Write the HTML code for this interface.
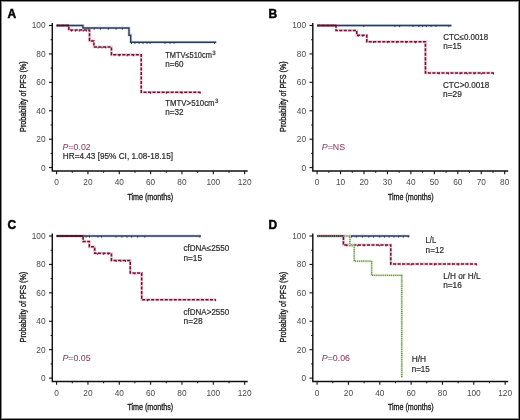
<!DOCTYPE html>
<html><head><meta charset="utf-8"><style>
html,body{margin:0;padding:0;background:#fff;}
body{width:520px;height:420px;overflow:hidden;font-family:"Liberation Sans",sans-serif;}
svg{display:block;will-change:transform;}
text{font-family:"Liberation Sans",sans-serif;}
</style></head><body>
<svg width="520" height="420" viewBox="0 0 520 420" font-family="Liberation Sans, sans-serif"><rect x="0" y="0" width="520" height="420" fill="#fff"/><text x="7.6" y="17.6" font-size="12" font-weight="bold" fill="#000" stroke="#000" stroke-width="0.45">A</text><path d="M52.30 22.90 V171.00 H247.70" fill="none" stroke="#111" stroke-width="1.45"/><path d="M49.00 167.60H52.30" stroke="#111" stroke-width="1.1"/><text x="45.6" y="170.55" text-anchor="end" font-size="8.3" fill="#4a4a4a">0</text><path d="M50.60 153.39H52.30" stroke="#111" stroke-width="1"/><path d="M49.00 139.18H52.30" stroke="#111" stroke-width="1.1"/><text x="45.6" y="142.13" text-anchor="end" font-size="8.3" fill="#4a4a4a">20</text><path d="M50.60 124.97H52.30" stroke="#111" stroke-width="1"/><path d="M49.00 110.76H52.30" stroke="#111" stroke-width="1.1"/><text x="45.6" y="113.71" text-anchor="end" font-size="8.3" fill="#4a4a4a">40</text><path d="M50.60 96.55H52.30" stroke="#111" stroke-width="1"/><path d="M49.00 82.34H52.30" stroke="#111" stroke-width="1.1"/><text x="45.6" y="85.29" text-anchor="end" font-size="8.3" fill="#4a4a4a">60</text><path d="M50.60 68.13H52.30" stroke="#111" stroke-width="1"/><path d="M49.00 53.92H52.30" stroke="#111" stroke-width="1.1"/><text x="45.6" y="56.87" text-anchor="end" font-size="8.3" fill="#4a4a4a">80</text><path d="M50.60 39.71H52.30" stroke="#111" stroke-width="1"/><path d="M49.00 25.50H52.30" stroke="#111" stroke-width="1.1"/><text x="45.6" y="28.45" text-anchor="end" font-size="8.3" fill="#4a4a4a">100</text><path d="M56.60 171.00V174.30" stroke="#111" stroke-width="1.1"/><text x="56.60" y="185.0" text-anchor="middle" font-size="8.3" fill="#4a4a4a">0</text><path d="M72.27 171.00V172.80" stroke="#111" stroke-width="1"/><path d="M87.94 171.00V174.30" stroke="#111" stroke-width="1.1"/><text x="87.94" y="185.0" text-anchor="middle" font-size="8.3" fill="#4a4a4a">20</text><path d="M103.61 171.00V172.80" stroke="#111" stroke-width="1"/><path d="M119.28 171.00V174.30" stroke="#111" stroke-width="1.1"/><text x="119.28" y="185.0" text-anchor="middle" font-size="8.3" fill="#4a4a4a">40</text><path d="M134.95 171.00V172.80" stroke="#111" stroke-width="1"/><path d="M150.62 171.00V174.30" stroke="#111" stroke-width="1.1"/><text x="150.62" y="185.0" text-anchor="middle" font-size="8.3" fill="#4a4a4a">60</text><path d="M166.29 171.00V172.80" stroke="#111" stroke-width="1"/><path d="M181.96 171.00V174.30" stroke="#111" stroke-width="1.1"/><text x="181.96" y="185.0" text-anchor="middle" font-size="8.3" fill="#4a4a4a">80</text><path d="M197.63 171.00V172.80" stroke="#111" stroke-width="1"/><path d="M213.30 171.00V174.30" stroke="#111" stroke-width="1.1"/><text x="213.30" y="185.0" text-anchor="middle" font-size="8.3" fill="#4a4a4a">100</text><path d="M228.97 171.00V172.80" stroke="#111" stroke-width="1"/><path d="M244.64 171.00V174.30" stroke="#111" stroke-width="1.1"/><text x="244.64" y="185.0" text-anchor="middle" font-size="8.3" fill="#4a4a4a">120</text><text x="150.3" y="199.6" text-anchor="middle" font-size="9.5" fill="#1a1a1a" stroke="#1a1a1a" stroke-width="0.35" textLength="45.8" lengthAdjust="spacingAndGlyphs">Time (months)</text><text transform="translate(25.9 96.6) rotate(-90)" x="0" y="0" text-anchor="middle" font-size="9.5" fill="#1a1a1a" stroke="#1a1a1a" stroke-width="0.35" textLength="70.6" lengthAdjust="spacingAndGlyphs">Probability of PFS (%)</text><path d="M56.60 25.50 H82.93 V28.06 H129.00 V35.16 H130.72 V42.27 H216.28" fill="none" stroke="#d9e0ea" stroke-width="3.1"/><path d="M56.60 25.50 H68.82 V30.05 H89.51 V40.99 H93.89 V46.96 H111.44 V54.77 H141.22 V92.29 H200.61" fill="none" stroke="#f2ccd8" stroke-width="2.8"/><path d="M56.60 25.50 H82.93 V28.06 H129.00 V35.16 H130.72 V42.27 H216.28" fill="none" stroke="#2c3b57" stroke-width="1.45"/><path d="M87.94 28.06v1.60" stroke="#2c3b57" stroke-width="1.00"/><path d="M94.21 28.06v1.60" stroke="#2c3b57" stroke-width="1.00"/><path d="M100.48 28.06v1.60" stroke="#2c3b57" stroke-width="1.00"/><path d="M108.31 28.06v1.60" stroke="#2c3b57" stroke-width="1.00"/><path d="M116.15 28.06v1.60" stroke="#2c3b57" stroke-width="1.00"/><path d="M122.41 28.06v1.60" stroke="#2c3b57" stroke-width="1.00"/><path d="M131.50 42.27v1.60" stroke="#2c3b57" stroke-width="1.00"/><path d="M134.95 42.27v1.60" stroke="#2c3b57" stroke-width="1.00"/><path d="M139.18 42.27v1.60" stroke="#2c3b57" stroke-width="1.00"/><path d="M143.10 42.27v1.60" stroke="#2c3b57" stroke-width="1.00"/><path d="M147.02 42.27v1.60" stroke="#2c3b57" stroke-width="1.00"/><path d="M149.99 42.27v1.60" stroke="#2c3b57" stroke-width="1.00"/><path d="M165.04 42.27v1.60" stroke="#2c3b57" stroke-width="1.00"/><path d="M170.05 42.27v1.60" stroke="#2c3b57" stroke-width="1.00"/><path d="M174.12 42.27v1.60" stroke="#2c3b57" stroke-width="1.00"/><path d="M214.55 42.27v1.60" stroke="#2c3b57" stroke-width="1.00"/><path d="M56.60 25.50 H68.82 V30.05 H89.51 V40.99 H93.89 V46.96 H111.44 V54.77 H141.22 V92.29 H200.61" fill="none" stroke="#6a1436" stroke-width="1.55" stroke-dasharray="3.1 1.42"/><path d="M56.60 25.50H68.82" fill="none" stroke="#3e1a2c" stroke-width="1.60"/><path d="M71.49 30.05v1.50" stroke="#6a1436" stroke-width="1.00"/><path d="M75.40 30.05v1.50" stroke="#6a1436" stroke-width="1.00"/><path d="M79.32 30.05v1.50" stroke="#6a1436" stroke-width="1.00"/><path d="M83.24 30.05v1.50" stroke="#6a1436" stroke-width="1.00"/><path d="M86.37 30.05v1.50" stroke="#6a1436" stroke-width="1.00"/><path d="M98.13 46.96v1.50" stroke="#6a1436" stroke-width="1.00"/><path d="M102.04 46.96v1.50" stroke="#6a1436" stroke-width="1.00"/><path d="M105.96 46.96v1.50" stroke="#6a1436" stroke-width="1.00"/><path d="M119.28 54.77v1.50" stroke="#6a1436" stroke-width="1.00"/><path d="M127.12 54.77v1.50" stroke="#6a1436" stroke-width="1.00"/><path d="M133.38 54.77v1.50" stroke="#6a1436" stroke-width="1.00"/><path d="M150.62 92.29v1.50" stroke="#6a1436" stroke-width="1.00"/><path d="M166.29 92.29v1.50" stroke="#6a1436" stroke-width="1.00"/><path d="M181.96 92.29v1.50" stroke="#6a1436" stroke-width="1.00"/><path d="M200.14 92.29v1.50" stroke="#6a1436" stroke-width="1.00"/><text transform="scale(0.840 1)" x="196.79" y="57.75" font-size="8.50" fill="#2a2a2a" stroke="#2a2a2a" stroke-width="0.2" textLength="55.48" lengthAdjust="spacingAndGlyphs">TMTV≤510cm</text><text x="212.20" y="54.60" font-size="6.20" fill="#2a2a2a" stroke="#2a2a2a" stroke-width="0.16" text-rendering="geometricPrecision">3</text><text transform="scale(0.840 1)" x="196.79" y="67.50" font-size="8.50" fill="#2a2a2a" stroke="#2a2a2a" stroke-width="0.2" textLength="21.79" lengthAdjust="spacingAndGlyphs">n=60</text><text transform="scale(0.840 1)" x="196.79" y="106.00" font-size="8.50" fill="#2a2a2a" stroke="#2a2a2a" stroke-width="0.2" textLength="58.69" lengthAdjust="spacingAndGlyphs">TMTV&gt;510cm</text><text x="215.00" y="102.90" font-size="6.20" fill="#2a2a2a" stroke="#2a2a2a" stroke-width="0.16" text-rendering="geometricPrecision">3</text><text transform="scale(0.840 1)" x="196.79" y="115.00" font-size="8.50" fill="#2a2a2a" stroke="#2a2a2a" stroke-width="0.2" textLength="21.79" lengthAdjust="spacingAndGlyphs">n=32</text><text x="62.60" y="149.60" font-size="8.8" fill="#8a3f62" stroke="#8a3f62" stroke-width="0.05"><tspan font-style="italic">P</tspan>=0.02</text><text transform="scale(0.840 1)" x="74.76" y="159.20" font-size="8.50" fill="#2a2a2a" stroke="#2a2a2a" stroke-width="0.2" textLength="131.19" lengthAdjust="spacingAndGlyphs">HR=4.43 [95% CI, 1.08-18.15]</text><text x="268.4" y="18.2" font-size="12" font-weight="bold" fill="#000" stroke="#000" stroke-width="0.45">B</text><g transform="translate(260.5 0)"><path d="M52.30 22.90 V171.00 H247.70" fill="none" stroke="#111" stroke-width="1.45"/><path d="M49.00 167.60H52.30" stroke="#111" stroke-width="1.1"/><text x="45.6" y="170.55" text-anchor="end" font-size="8.3" fill="#4a4a4a">0</text><path d="M50.60 153.39H52.30" stroke="#111" stroke-width="1"/><path d="M49.00 139.18H52.30" stroke="#111" stroke-width="1.1"/><text x="45.6" y="142.13" text-anchor="end" font-size="8.3" fill="#4a4a4a">20</text><path d="M50.60 124.97H52.30" stroke="#111" stroke-width="1"/><path d="M49.00 110.76H52.30" stroke="#111" stroke-width="1.1"/><text x="45.6" y="113.71" text-anchor="end" font-size="8.3" fill="#4a4a4a">40</text><path d="M50.60 96.55H52.30" stroke="#111" stroke-width="1"/><path d="M49.00 82.34H52.30" stroke="#111" stroke-width="1.1"/><text x="45.6" y="85.29" text-anchor="end" font-size="8.3" fill="#4a4a4a">60</text><path d="M50.60 68.13H52.30" stroke="#111" stroke-width="1"/><path d="M49.00 53.92H52.30" stroke="#111" stroke-width="1.1"/><text x="45.6" y="56.87" text-anchor="end" font-size="8.3" fill="#4a4a4a">80</text><path d="M50.60 39.71H52.30" stroke="#111" stroke-width="1"/><path d="M49.00 25.50H52.30" stroke="#111" stroke-width="1.1"/><text x="45.6" y="28.45" text-anchor="end" font-size="8.3" fill="#4a4a4a">100</text><path d="M56.60 171.00V174.30" stroke="#111" stroke-width="1.1"/><text x="56.60" y="185.0" text-anchor="middle" font-size="8.3" fill="#4a4a4a">0</text><path d="M68.33 171.00V172.80" stroke="#111" stroke-width="1"/><path d="M80.05 171.00V174.30" stroke="#111" stroke-width="1.1"/><text x="80.05" y="185.0" text-anchor="middle" font-size="8.3" fill="#4a4a4a">10</text><path d="M91.78 171.00V172.80" stroke="#111" stroke-width="1"/><path d="M103.50 171.00V174.30" stroke="#111" stroke-width="1.1"/><text x="103.50" y="185.0" text-anchor="middle" font-size="8.3" fill="#4a4a4a">20</text><path d="M115.23 171.00V172.80" stroke="#111" stroke-width="1"/><path d="M126.95 171.00V174.30" stroke="#111" stroke-width="1.1"/><text x="126.95" y="185.0" text-anchor="middle" font-size="8.3" fill="#4a4a4a">30</text><path d="M138.68 171.00V172.80" stroke="#111" stroke-width="1"/><path d="M150.40 171.00V174.30" stroke="#111" stroke-width="1.1"/><text x="150.40" y="185.0" text-anchor="middle" font-size="8.3" fill="#4a4a4a">40</text><path d="M162.12 171.00V172.80" stroke="#111" stroke-width="1"/><path d="M173.85 171.00V174.30" stroke="#111" stroke-width="1.1"/><text x="173.85" y="185.0" text-anchor="middle" font-size="8.3" fill="#4a4a4a">50</text><path d="M185.58 171.00V172.80" stroke="#111" stroke-width="1"/><path d="M197.30 171.00V174.30" stroke="#111" stroke-width="1.1"/><text x="197.30" y="185.0" text-anchor="middle" font-size="8.3" fill="#4a4a4a">60</text><path d="M209.03 171.00V172.80" stroke="#111" stroke-width="1"/><path d="M220.75 171.00V174.30" stroke="#111" stroke-width="1.1"/><text x="220.75" y="185.0" text-anchor="middle" font-size="8.3" fill="#4a4a4a">70</text><path d="M232.48 171.00V172.80" stroke="#111" stroke-width="1"/><path d="M244.20 171.00V174.30" stroke="#111" stroke-width="1.1"/><text x="244.20" y="185.0" text-anchor="middle" font-size="8.3" fill="#4a4a4a">80</text><text x="150.3" y="199.6" text-anchor="middle" font-size="9.5" fill="#1a1a1a" stroke="#1a1a1a" stroke-width="0.35" textLength="45.8" lengthAdjust="spacingAndGlyphs">Time (months)</text><text transform="translate(25.9 96.6) rotate(-90)" x="0" y="0" text-anchor="middle" font-size="9.5" fill="#1a1a1a" stroke="#1a1a1a" stroke-width="0.35" textLength="70.6" lengthAdjust="spacingAndGlyphs">Probability of PFS (%)</text><path d="M56.60 25.50 H190.97" fill="none" stroke="#d9e0ea" stroke-width="3.1"/><path d="M56.60 25.50 H75.50 V30.47 H96.23 V35.30 H106.31 V41.70 H164.94 V72.96 H233.41" fill="none" stroke="#f2ccd8" stroke-width="2.8"/><path d="M56.60 25.50 H190.97" fill="none" stroke="#2c3b57" stroke-width="1.45"/><path d="M103.27 25.50v1.60" stroke="#2c3b57" stroke-width="1.00"/><path d="M134.45 25.50v1.60" stroke="#2c3b57" stroke-width="1.00"/><path d="M139.14 25.50v1.60" stroke="#2c3b57" stroke-width="1.00"/><path d="M152.51 25.50v1.60" stroke="#2c3b57" stroke-width="1.00"/><path d="M158.37 25.50v1.60" stroke="#2c3b57" stroke-width="1.00"/><path d="M162.12 25.50v1.60" stroke="#2c3b57" stroke-width="1.00"/><path d="M165.88 25.50v1.60" stroke="#2c3b57" stroke-width="1.00"/><path d="M170.57 25.50v1.60" stroke="#2c3b57" stroke-width="1.00"/><path d="M175.49 25.50v1.60" stroke="#2c3b57" stroke-width="1.00"/><path d="M188.39 25.50v1.60" stroke="#2c3b57" stroke-width="1.00"/><path d="M56.60 25.50 H75.50 V30.47 H96.23 V35.30 H106.31 V41.70 H164.94 V72.96 H233.41" fill="none" stroke="#6a1436" stroke-width="1.55" stroke-dasharray="3.1 1.42"/><path d="M56.60 25.50H75.50" fill="none" stroke="#5a1630" stroke-width="1.60"/><path d="M97.64 35.30v1.50" stroke="#6a1436" stroke-width="1.00"/><path d="M102.33 35.30v1.50" stroke="#6a1436" stroke-width="1.00"/><path d="M112.88 41.70v1.50" stroke="#6a1436" stroke-width="1.00"/><path d="M126.95 41.70v1.50" stroke="#6a1436" stroke-width="1.00"/><path d="M136.33 41.70v1.50" stroke="#6a1436" stroke-width="1.00"/><path d="M145.71 41.70v1.50" stroke="#6a1436" stroke-width="1.00"/><path d="M155.09 41.70v1.50" stroke="#6a1436" stroke-width="1.00"/><path d="M178.54 72.96v1.50" stroke="#6a1436" stroke-width="1.00"/><path d="M187.92 72.96v1.50" stroke="#6a1436" stroke-width="1.00"/><path d="M199.65 72.96v1.50" stroke="#6a1436" stroke-width="1.00"/><path d="M206.68 72.96v1.50" stroke="#6a1436" stroke-width="1.00"/><path d="M213.72 72.96v1.50" stroke="#6a1436" stroke-width="1.00"/><path d="M220.75 72.96v1.50" stroke="#6a1436" stroke-width="1.00"/><path d="M232.94 72.96v1.50" stroke="#6a1436" stroke-width="1.00"/></g><text transform="scale(0.840 1)" x="527.62" y="39.80" font-size="8.50" fill="#2a2a2a" stroke="#2a2a2a" stroke-width="0.2" textLength="53.57" lengthAdjust="spacingAndGlyphs">CTC≤0.0018</text><text transform="scale(0.840 1)" x="527.62" y="49.30" font-size="8.50" fill="#2a2a2a" stroke="#2a2a2a" stroke-width="0.2" textLength="21.90" lengthAdjust="spacingAndGlyphs">n=15</text><text transform="scale(0.840 1)" x="527.38" y="87.90" font-size="8.50" fill="#2a2a2a" stroke="#2a2a2a" stroke-width="0.2" textLength="55.00" lengthAdjust="spacingAndGlyphs">CTC&gt;0.0018</text><text transform="scale(0.840 1)" x="527.38" y="97.50" font-size="8.50" fill="#2a2a2a" stroke="#2a2a2a" stroke-width="0.2" textLength="22.38" lengthAdjust="spacingAndGlyphs">n=29</text><text x="321.80" y="149.60" font-size="8.8" fill="#8a3f62" stroke="#8a3f62" stroke-width="0.05"><tspan font-style="italic">P</tspan>=NS</text><text x="7.4" y="229.2" font-size="12" font-weight="bold" fill="#000" stroke="#000" stroke-width="0.45">C</text><g transform="translate(0 210.5)"><path d="M52.30 22.90 V171.00 H247.70" fill="none" stroke="#111" stroke-width="1.45"/><path d="M49.00 167.60H52.30" stroke="#111" stroke-width="1.1"/><text x="45.6" y="170.55" text-anchor="end" font-size="8.3" fill="#4a4a4a">0</text><path d="M50.60 153.39H52.30" stroke="#111" stroke-width="1"/><path d="M49.00 139.18H52.30" stroke="#111" stroke-width="1.1"/><text x="45.6" y="142.13" text-anchor="end" font-size="8.3" fill="#4a4a4a">20</text><path d="M50.60 124.97H52.30" stroke="#111" stroke-width="1"/><path d="M49.00 110.76H52.30" stroke="#111" stroke-width="1.1"/><text x="45.6" y="113.71" text-anchor="end" font-size="8.3" fill="#4a4a4a">40</text><path d="M50.60 96.55H52.30" stroke="#111" stroke-width="1"/><path d="M49.00 82.34H52.30" stroke="#111" stroke-width="1.1"/><text x="45.6" y="85.29" text-anchor="end" font-size="8.3" fill="#4a4a4a">60</text><path d="M50.60 68.13H52.30" stroke="#111" stroke-width="1"/><path d="M49.00 53.92H52.30" stroke="#111" stroke-width="1.1"/><text x="45.6" y="56.87" text-anchor="end" font-size="8.3" fill="#4a4a4a">80</text><path d="M50.60 39.71H52.30" stroke="#111" stroke-width="1"/><path d="M49.00 25.50H52.30" stroke="#111" stroke-width="1.1"/><text x="45.6" y="28.45" text-anchor="end" font-size="8.3" fill="#4a4a4a">100</text><path d="M56.60 171.00V174.30" stroke="#111" stroke-width="1.1"/><text x="56.60" y="185.0" text-anchor="middle" font-size="8.3" fill="#4a4a4a">0</text><path d="M72.27 171.00V172.80" stroke="#111" stroke-width="1"/><path d="M87.94 171.00V174.30" stroke="#111" stroke-width="1.1"/><text x="87.94" y="185.0" text-anchor="middle" font-size="8.3" fill="#4a4a4a">20</text><path d="M103.61 171.00V172.80" stroke="#111" stroke-width="1"/><path d="M119.28 171.00V174.30" stroke="#111" stroke-width="1.1"/><text x="119.28" y="185.0" text-anchor="middle" font-size="8.3" fill="#4a4a4a">40</text><path d="M134.95 171.00V172.80" stroke="#111" stroke-width="1"/><path d="M150.62 171.00V174.30" stroke="#111" stroke-width="1.1"/><text x="150.62" y="185.0" text-anchor="middle" font-size="8.3" fill="#4a4a4a">60</text><path d="M166.29 171.00V172.80" stroke="#111" stroke-width="1"/><path d="M181.96 171.00V174.30" stroke="#111" stroke-width="1.1"/><text x="181.96" y="185.0" text-anchor="middle" font-size="8.3" fill="#4a4a4a">80</text><path d="M197.63 171.00V172.80" stroke="#111" stroke-width="1"/><path d="M213.30 171.00V174.30" stroke="#111" stroke-width="1.1"/><text x="213.30" y="185.0" text-anchor="middle" font-size="8.3" fill="#4a4a4a">100</text><path d="M228.97 171.00V172.80" stroke="#111" stroke-width="1"/><path d="M244.64 171.00V174.30" stroke="#111" stroke-width="1.1"/><text x="244.64" y="185.0" text-anchor="middle" font-size="8.3" fill="#4a4a4a">120</text><text x="150.3" y="199.6" text-anchor="middle" font-size="9.5" fill="#1a1a1a" stroke="#1a1a1a" stroke-width="0.35" textLength="45.8" lengthAdjust="spacingAndGlyphs">Time (months)</text><text transform="translate(25.9 96.6) rotate(-90)" x="0" y="0" text-anchor="middle" font-size="9.5" fill="#1a1a1a" stroke="#1a1a1a" stroke-width="0.35" textLength="70.6" lengthAdjust="spacingAndGlyphs">Probability of PFS (%)</text><path d="M56.60 25.50 H200.92" fill="none" stroke="#d9e0ea" stroke-width="3.1"/><path d="M56.60 25.50 H83.08 V31.04 H89.35 V36.30 H94.68 V42.84 H111.44 V49.94 H130.25 V62.59 H141.69 V89.16 H215.96" fill="none" stroke="#f2ccd8" stroke-width="2.8"/><path d="M56.60 25.50 H200.92" fill="none" stroke="#2c3b57" stroke-width="1.45"/><path d="M86.06 25.50v1.60" stroke="#2c3b57" stroke-width="1.00"/><path d="M89.51 25.50v1.60" stroke="#2c3b57" stroke-width="1.00"/><path d="M97.97 25.50v1.60" stroke="#2c3b57" stroke-width="1.00"/><path d="M101.57 25.50v1.60" stroke="#2c3b57" stroke-width="1.00"/><path d="M115.99 25.50v1.60" stroke="#2c3b57" stroke-width="1.00"/><path d="M121.94 25.50v1.60" stroke="#2c3b57" stroke-width="1.00"/><path d="M126.96 25.50v1.60" stroke="#2c3b57" stroke-width="1.00"/><path d="M131.66 25.50v1.60" stroke="#2c3b57" stroke-width="1.00"/><path d="M137.61 25.50v1.60" stroke="#2c3b57" stroke-width="1.00"/><path d="M144.82 25.50v1.60" stroke="#2c3b57" stroke-width="1.00"/><path d="M199.82 25.50v1.60" stroke="#2c3b57" stroke-width="1.00"/><path d="M56.60 25.50 H83.08 V31.04 H89.35 V36.30 H94.68 V42.84 H111.44 V49.94 H130.25 V62.59 H141.69 V89.16 H215.96" fill="none" stroke="#6a1436" stroke-width="1.55" stroke-dasharray="3.1 1.42"/><path d="M56.60 25.50H83.08" fill="none" stroke="#4a1428" stroke-width="1.60"/><path d="M97.34 42.84v1.50" stroke="#6a1436" stroke-width="1.00"/><path d="M103.61 42.84v1.50" stroke="#6a1436" stroke-width="1.00"/><path d="M108.31 42.84v1.50" stroke="#6a1436" stroke-width="1.00"/><path d="M116.15 49.94v1.50" stroke="#6a1436" stroke-width="1.00"/><path d="M120.85 49.94v1.50" stroke="#6a1436" stroke-width="1.00"/><path d="M125.55 49.94v1.50" stroke="#6a1436" stroke-width="1.00"/><path d="M134.95 62.59v1.50" stroke="#6a1436" stroke-width="1.00"/><path d="M147.49 89.16v1.50" stroke="#6a1436" stroke-width="1.00"/><path d="M215.65 89.16v1.50" stroke="#6a1436" stroke-width="1.00"/></g><text transform="scale(0.840 1)" x="218.33" y="251.30" font-size="8.50" fill="#2a2a2a" stroke="#2a2a2a" stroke-width="0.2" textLength="54.52" lengthAdjust="spacingAndGlyphs">cfDNA≤2550</text><text transform="scale(0.840 1)" x="218.33" y="260.80" font-size="8.50" fill="#2a2a2a" stroke="#2a2a2a" stroke-width="0.2" textLength="22.14" lengthAdjust="spacingAndGlyphs">n=15</text><text transform="scale(0.840 1)" x="218.57" y="314.90" font-size="8.50" fill="#2a2a2a" stroke="#2a2a2a" stroke-width="0.2" textLength="54.29" lengthAdjust="spacingAndGlyphs">cfDNA&gt;2550</text><text transform="scale(0.840 1)" x="218.57" y="324.00" font-size="8.50" fill="#2a2a2a" stroke="#2a2a2a" stroke-width="0.2" textLength="22.62" lengthAdjust="spacingAndGlyphs">n=28</text><text x="62.40" y="361.00" font-size="8.8" fill="#8a3f62" stroke="#8a3f62" stroke-width="0.05"><tspan font-style="italic">P</tspan>=0.05</text><text x="268.5" y="228.8" font-size="12" font-weight="bold" fill="#000" stroke="#000" stroke-width="0.45">D</text><g transform="translate(260.5 210.5)"><path d="M52.30 22.90 V171.00 H247.70" fill="none" stroke="#111" stroke-width="1.45"/><path d="M49.00 167.60H52.30" stroke="#111" stroke-width="1.1"/><text x="45.6" y="170.55" text-anchor="end" font-size="8.3" fill="#4a4a4a">0</text><path d="M50.60 153.39H52.30" stroke="#111" stroke-width="1"/><path d="M49.00 139.18H52.30" stroke="#111" stroke-width="1.1"/><text x="45.6" y="142.13" text-anchor="end" font-size="8.3" fill="#4a4a4a">20</text><path d="M50.60 124.97H52.30" stroke="#111" stroke-width="1"/><path d="M49.00 110.76H52.30" stroke="#111" stroke-width="1.1"/><text x="45.6" y="113.71" text-anchor="end" font-size="8.3" fill="#4a4a4a">40</text><path d="M50.60 96.55H52.30" stroke="#111" stroke-width="1"/><path d="M49.00 82.34H52.30" stroke="#111" stroke-width="1.1"/><text x="45.6" y="85.29" text-anchor="end" font-size="8.3" fill="#4a4a4a">60</text><path d="M50.60 68.13H52.30" stroke="#111" stroke-width="1"/><path d="M49.00 53.92H52.30" stroke="#111" stroke-width="1.1"/><text x="45.6" y="56.87" text-anchor="end" font-size="8.3" fill="#4a4a4a">80</text><path d="M50.60 39.71H52.30" stroke="#111" stroke-width="1"/><path d="M49.00 25.50H52.30" stroke="#111" stroke-width="1.1"/><text x="45.6" y="28.45" text-anchor="end" font-size="8.3" fill="#4a4a4a">100</text><path d="M56.60 171.00V174.30" stroke="#111" stroke-width="1.1"/><text x="56.60" y="185.0" text-anchor="middle" font-size="8.3" fill="#4a4a4a">0</text><path d="M72.27 171.00V172.80" stroke="#111" stroke-width="1"/><path d="M87.94 171.00V174.30" stroke="#111" stroke-width="1.1"/><text x="87.94" y="185.0" text-anchor="middle" font-size="8.3" fill="#4a4a4a">20</text><path d="M103.61 171.00V172.80" stroke="#111" stroke-width="1"/><path d="M119.28 171.00V174.30" stroke="#111" stroke-width="1.1"/><text x="119.28" y="185.0" text-anchor="middle" font-size="8.3" fill="#4a4a4a">40</text><path d="M134.95 171.00V172.80" stroke="#111" stroke-width="1"/><path d="M150.62 171.00V174.30" stroke="#111" stroke-width="1.1"/><text x="150.62" y="185.0" text-anchor="middle" font-size="8.3" fill="#4a4a4a">60</text><path d="M166.29 171.00V172.80" stroke="#111" stroke-width="1"/><path d="M181.96 171.00V174.30" stroke="#111" stroke-width="1.1"/><text x="181.96" y="185.0" text-anchor="middle" font-size="8.3" fill="#4a4a4a">80</text><path d="M197.63 171.00V172.80" stroke="#111" stroke-width="1"/><path d="M213.30 171.00V174.30" stroke="#111" stroke-width="1.1"/><text x="213.30" y="185.0" text-anchor="middle" font-size="8.3" fill="#4a4a4a">100</text><path d="M228.97 171.00V172.80" stroke="#111" stroke-width="1"/><path d="M244.64 171.00V174.30" stroke="#111" stroke-width="1.1"/><text x="244.64" y="185.0" text-anchor="middle" font-size="8.3" fill="#4a4a4a">120</text><text x="150.3" y="199.6" text-anchor="middle" font-size="9.5" fill="#1a1a1a" stroke="#1a1a1a" stroke-width="0.35" textLength="45.8" lengthAdjust="spacingAndGlyphs">Time (months)</text><text transform="translate(25.9 96.6) rotate(-90)" x="0" y="0" text-anchor="middle" font-size="9.5" fill="#1a1a1a" stroke="#1a1a1a" stroke-width="0.35" textLength="70.6" lengthAdjust="spacingAndGlyphs">Probability of PFS (%)</text><path d="M56.60 25.50 H148.90" fill="none" stroke="#d9e0ea" stroke-width="3.1"/><path d="M56.60 25.50 H82.93 V34.45 H130.25 V53.49 H216.43" fill="none" stroke="#f2ccd8" stroke-width="2.8"/><path d="M56.60 25.50 H148.90" fill="none" stroke="#2c3b57" stroke-width="1.45"/><path d="M91.07 25.50v1.60" stroke="#2c3b57" stroke-width="1.00"/><path d="M95.78 25.50v1.60" stroke="#2c3b57" stroke-width="1.00"/><path d="M102.04 25.50v1.60" stroke="#2c3b57" stroke-width="1.00"/><path d="M108.31 25.50v1.60" stroke="#2c3b57" stroke-width="1.00"/><path d="M113.01 25.50v1.60" stroke="#2c3b57" stroke-width="1.00"/><path d="M119.28 25.50v1.60" stroke="#2c3b57" stroke-width="1.00"/><path d="M123.98 25.50v1.60" stroke="#2c3b57" stroke-width="1.00"/><path d="M128.68 25.50v1.60" stroke="#2c3b57" stroke-width="1.00"/><path d="M133.38 25.50v1.60" stroke="#2c3b57" stroke-width="1.00"/><path d="M138.08 25.50v1.60" stroke="#2c3b57" stroke-width="1.00"/><path d="M142.78 25.50v1.60" stroke="#2c3b57" stroke-width="1.00"/><path d="M147.80 25.50v1.60" stroke="#2c3b57" stroke-width="1.00"/><path d="M56.60 25.50 H82.93 V34.45 H130.25 V53.49 H216.43" fill="none" stroke="#6a1436" stroke-width="1.55" stroke-dasharray="3.1 1.42"/><path d="M56.60 25.50 H89.35 V35.02 H93.74 V50.65 H111.13 V64.86 H141.22 V167.60 H141.22" fill="none" stroke="#c8e2ac" stroke-width="2.0"/><path d="M56.60 25.50 H89.35 V35.02 H93.74 V50.65 H111.13 V64.86 H141.22 V167.60 H141.22" fill="none" stroke="#5e7350" stroke-width="1.3" stroke-dasharray="0.9 1.2"/><path d="M86.37 34.45v1.50" stroke="#6a1436" stroke-width="1.00"/><path d="M97.34 34.45v1.50" stroke="#6a1436" stroke-width="1.00"/><path d="M103.61 34.45v1.50" stroke="#6a1436" stroke-width="1.00"/><path d="M119.28 34.45v1.50" stroke="#6a1436" stroke-width="1.00"/><path d="M125.55 34.45v1.50" stroke="#6a1436" stroke-width="1.00"/><path d="M150.62 53.49v1.50" stroke="#6a1436" stroke-width="1.00"/><path d="M174.12 53.49v1.50" stroke="#6a1436" stroke-width="1.00"/><path d="M197.63 53.49v1.50" stroke="#6a1436" stroke-width="1.00"/><path d="M216.12 53.49v1.50" stroke="#6a1436" stroke-width="1.00"/><path d="M56.60 25.50H82.93" fill="none" stroke="#6a6a60" stroke-width="1.70"/><path d="M56.60 25.50H82.93" fill="none" stroke="#2a2c24" stroke-width="1.70" stroke-dasharray="1.1 1.0"/></g><text transform="scale(0.840 1)" x="506.67" y="243.50" font-size="8.50" fill="#2a2a2a" stroke="#2a2a2a" stroke-width="0.2" textLength="12.62" lengthAdjust="spacingAndGlyphs">L/L</text><text transform="scale(0.840 1)" x="506.67" y="252.90" font-size="8.50" fill="#2a2a2a" stroke="#2a2a2a" stroke-width="0.2" textLength="21.90" lengthAdjust="spacingAndGlyphs">n=12</text><text transform="scale(0.840 1)" x="527.62" y="278.60" font-size="8.50" fill="#2a2a2a" stroke="#2a2a2a" stroke-width="0.2" textLength="44.52" lengthAdjust="spacingAndGlyphs">L/H or H/L</text><text transform="scale(0.840 1)" x="527.62" y="288.00" font-size="8.50" fill="#2a2a2a" stroke="#2a2a2a" stroke-width="0.2" textLength="22.14" lengthAdjust="spacingAndGlyphs">n=16</text><text transform="scale(0.840 1)" x="490.12" y="362.50" font-size="8.50" fill="#2a2a2a" stroke="#2a2a2a" stroke-width="0.2" textLength="17.14" lengthAdjust="spacingAndGlyphs">H/H</text><text transform="scale(0.840 1)" x="490.12" y="372.00" font-size="8.50" fill="#2a2a2a" stroke="#2a2a2a" stroke-width="0.2" textLength="21.43" lengthAdjust="spacingAndGlyphs">n=15</text><text x="321.80" y="361.20" font-size="8.8" fill="#8a3f62" stroke="#8a3f62" stroke-width="0.05"><tspan font-style="italic">P</tspan>=0.06</text><rect x="1.5" y="1.5" width="517" height="417" fill="none" stroke="#8a8a8a" stroke-width="1"/><rect x="0.5" y="0.5" width="519" height="419" fill="none" stroke="#000" stroke-width="1"/></svg>
</body></html>
